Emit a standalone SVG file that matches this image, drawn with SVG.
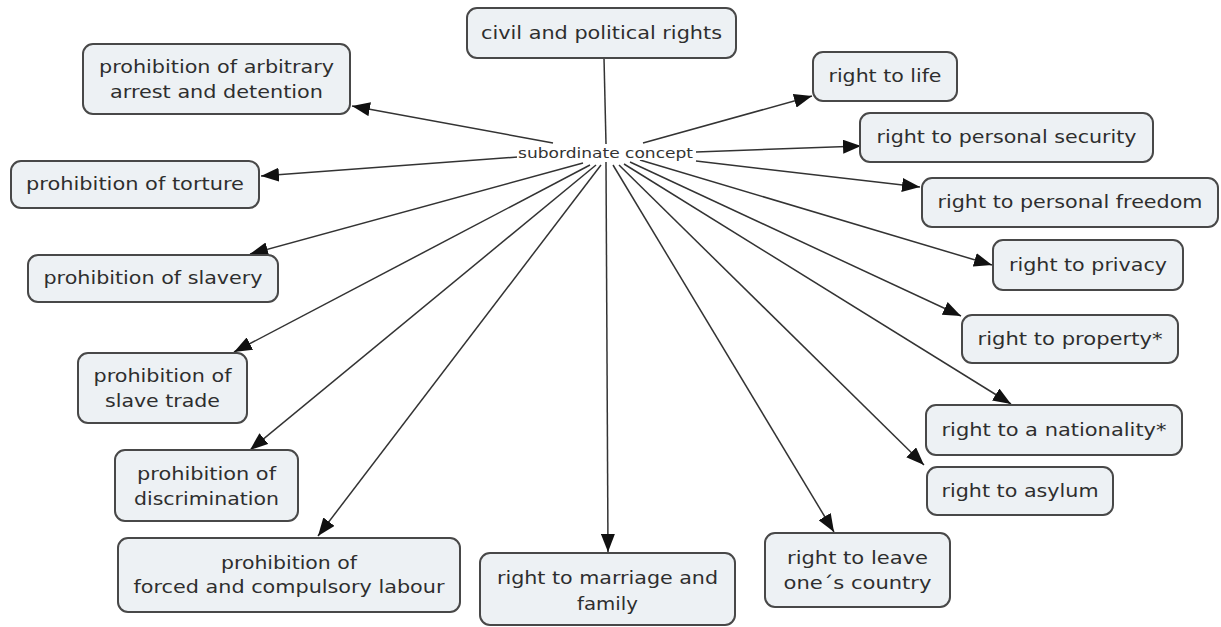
<svg xmlns="http://www.w3.org/2000/svg" width="1221" height="627" viewBox="0 0 1221 627">
  <style>
    .box { fill: #edf1f4; stroke: #484848; stroke-width: 2; }
    .lbl { font-family: "DejaVu Sans", Verdana, sans-serif; font-size: 18px; fill: #2e2e2e; text-anchor: middle; }
    .hub { font-family: "DejaVu Sans", Verdana, sans-serif; font-size: 14px; fill: #333333; text-anchor: middle; }
    .link { stroke: #333333; stroke-width: 1.5; fill: none; }
  </style>
  <defs>
    <marker id="arrow" markerUnits="userSpaceOnUse" markerWidth="18" markerHeight="14" refX="18" refY="7" orient="auto">
      <path d="M0,0 L18,7 L0,14 z" fill="#111111"/>
    </marker>
  </defs>
  <rect width="1221" height="627" fill="#ffffff"/>

  <!-- connectors -->
  <g id="connectors">
    <line class="link" x1="604" y1="58" x2="606" y2="144"/>
    <line class="link" x1="553" y1="143" x2="352" y2="106" marker-end="url(#arrow)"/>
    <line class="link" x1="518" y1="157" x2="261" y2="176" marker-end="url(#arrow)"/>
    <line class="link" x1="583" y1="163" x2="250" y2="254" marker-end="url(#arrow)"/>
    <line class="link" x1="590" y1="165" x2="234" y2="352" marker-end="url(#arrow)"/>
    <line class="link" x1="596" y1="165" x2="250" y2="450" marker-end="url(#arrow)"/>
    <line class="link" x1="601" y1="165" x2="318" y2="536" marker-end="url(#arrow)"/>
    <line class="link" x1="606" y1="162" x2="608" y2="552" marker-end="url(#arrow)"/>
    <line class="link" x1="613" y1="165" x2="834" y2="532" marker-end="url(#arrow)"/>
    <line class="link" x1="619" y1="165" x2="924" y2="465" marker-end="url(#arrow)"/>
    <line class="link" x1="624" y1="164" x2="1011" y2="404" marker-end="url(#arrow)"/>
    <line class="link" x1="630" y1="162" x2="961" y2="316" marker-end="url(#arrow)"/>
    <line class="link" x1="640" y1="160" x2="992" y2="265" marker-end="url(#arrow)"/>
    <line class="link" x1="696" y1="161" x2="920" y2="187" marker-end="url(#arrow)"/>
    <line class="link" x1="696" y1="152" x2="861" y2="146" marker-end="url(#arrow)"/>
    <line class="link" x1="643" y1="143" x2="812" y2="96" marker-end="url(#arrow)"/>
  </g>

  <!-- linking phrase -->
  <g id="hub">
    <rect x="517" y="146" width="178" height="14" fill="#ffffff"/>
    <text class="hub" x="605.5" y="158" textLength="175" lengthAdjust="spacingAndGlyphs">subordinate concept</text>
  </g>

  <!-- concepts -->
  <g id="civil-political-rights">
    <rect class="box" x="467" y="8" width="269" height="50" rx="10"/>
    <text class="lbl" x="601.5" y="39" textLength="241" lengthAdjust="spacingAndGlyphs">civil and political rights</text>
  </g>
  <g id="arbitrary-arrest">
    <rect class="box" x="83" y="44" width="267" height="70" rx="10"/>
    <text class="lbl" x="216.5" y="73" textLength="235" lengthAdjust="spacingAndGlyphs">prohibition of arbitrary</text>
    <text class="lbl" x="216.5" y="98" textLength="213" lengthAdjust="spacingAndGlyphs">arrest and detention</text>
  </g>
  <g id="torture">
    <rect class="box" x="11" y="161" width="248" height="47" rx="10"/>
    <text class="lbl" x="135" y="190" textLength="218" lengthAdjust="spacingAndGlyphs">prohibition of torture</text>
  </g>
  <g id="slavery">
    <rect class="box" x="28" y="255" width="250" height="47" rx="10"/>
    <text class="lbl" x="153" y="284" textLength="219" lengthAdjust="spacingAndGlyphs">prohibition of slavery</text>
  </g>
  <g id="slave-trade">
    <rect class="box" x="78" y="353" width="169" height="70" rx="10"/>
    <text class="lbl" x="162.5" y="382" textLength="138" lengthAdjust="spacingAndGlyphs">prohibition of</text>
    <text class="lbl" x="162.5" y="407" textLength="115" lengthAdjust="spacingAndGlyphs">slave trade</text>
  </g>
  <g id="discrimination">
    <rect class="box" x="115" y="450" width="183" height="71" rx="10"/>
    <text class="lbl" x="206.5" y="480" textLength="139" lengthAdjust="spacingAndGlyphs">prohibition of</text>
    <text class="lbl" x="206.5" y="505" textLength="145" lengthAdjust="spacingAndGlyphs">discrimination</text>
  </g>
  <g id="forced-labour">
    <rect class="box" x="118" y="538" width="342" height="74" rx="10"/>
    <text class="lbl" x="289" y="569" textLength="136" lengthAdjust="spacingAndGlyphs">prohibition of</text>
    <text class="lbl" x="289" y="593" textLength="311" lengthAdjust="spacingAndGlyphs">forced and compulsory labour</text>
  </g>
  <g id="marriage-family">
    <rect class="box" x="480" y="553" width="255" height="72" rx="10"/>
    <text class="lbl" x="607.5" y="584" textLength="221" lengthAdjust="spacingAndGlyphs">right to marriage and</text>
    <text class="lbl" x="607.5" y="610" textLength="61" lengthAdjust="spacingAndGlyphs">family</text>
  </g>
  <g id="leave-country">
    <rect class="box" x="765" y="533" width="185" height="74" rx="10"/>
    <text class="lbl" x="857.5" y="564" textLength="141" lengthAdjust="spacingAndGlyphs">right to leave</text>
    <text class="lbl" x="857.5" y="589" textLength="148" lengthAdjust="spacingAndGlyphs">one´s country</text>
  </g>
  <g id="asylum">
    <rect class="box" x="927" y="467" width="186" height="48" rx="10"/>
    <text class="lbl" x="1020" y="497" textLength="157" lengthAdjust="spacingAndGlyphs">right to asylum</text>
  </g>
  <g id="nationality">
    <rect class="box" x="926" y="405" width="256" height="50" rx="10"/>
    <text class="lbl" x="1054" y="436" textLength="225" lengthAdjust="spacingAndGlyphs">right to a nationality*</text>
  </g>
  <g id="property">
    <rect class="box" x="962" y="315" width="216" height="48" rx="10"/>
    <text class="lbl" x="1070" y="345" textLength="185" lengthAdjust="spacingAndGlyphs">right to property*</text>
  </g>
  <g id="privacy">
    <rect class="box" x="993" y="240" width="190" height="50" rx="10"/>
    <text class="lbl" x="1088" y="271" textLength="158" lengthAdjust="spacingAndGlyphs">right to privacy</text>
  </g>
  <g id="personal-freedom">
    <rect class="box" x="922" y="178" width="296" height="49" rx="10"/>
    <text class="lbl" x="1070" y="208" textLength="265" lengthAdjust="spacingAndGlyphs">right to personal freedom</text>
  </g>
  <g id="personal-security">
    <rect class="box" x="860" y="113" width="293" height="49" rx="10"/>
    <text class="lbl" x="1006.5" y="143" textLength="260" lengthAdjust="spacingAndGlyphs">right to personal security</text>
  </g>
  <g id="life">
    <rect class="box" x="813" y="52" width="144" height="49" rx="10"/>
    <text class="lbl" x="885" y="82" textLength="113" lengthAdjust="spacingAndGlyphs">right to life</text>
  </g>
</svg>
